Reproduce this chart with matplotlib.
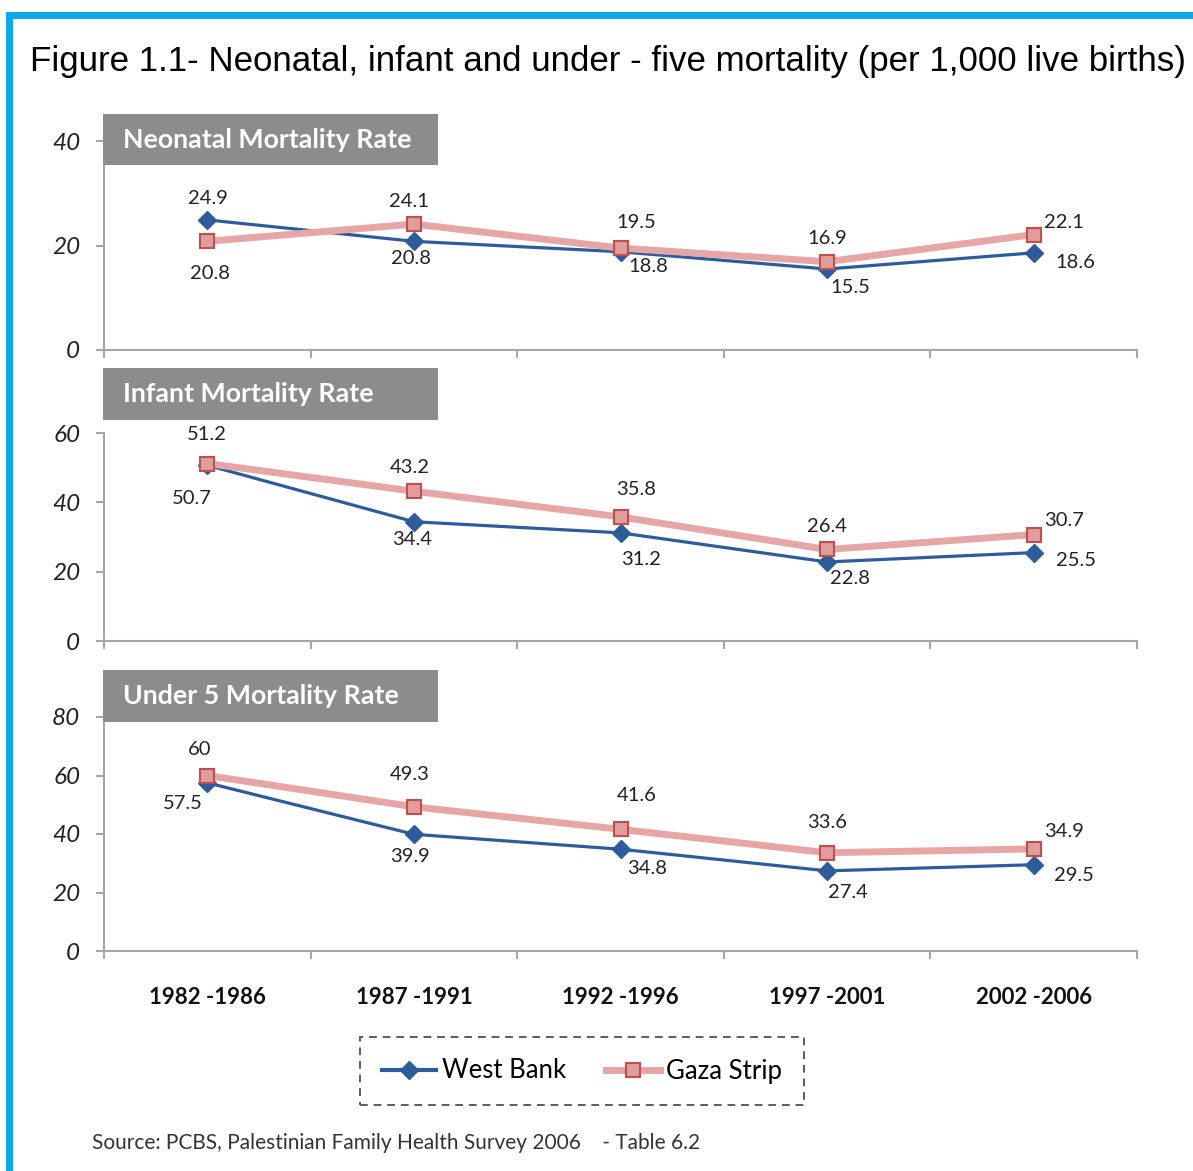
import numpy as np
import matplotlib
matplotlib.use("Agg")
import matplotlib.pyplot as plt
from matplotlib.patches import Rectangle
from matplotlib.lines import Line2D

# Datos
periods = ["1982 -1986", "1987 -1991", "1992 -1996", "1997 -2001", "2002 -2006"]
panel_titles = ["Neonatal Mortality Rate", "Infant Mortality Rate", "Under 5 Mortality Rate"]

neonatal_wb = [24.9, 20.8, 18.8, 15.5, 18.6]
neonatal_gs = [20.8, 24.1, 19.5, 16.9, 22.1]
infant_wb = [50.7, 34.4, 31.2, 22.8, 25.5]
infant_gs = [51.2, 43.2, 35.8, 26.4, 30.7]
under5_wb = [57.5, 39.9, 34.8, 27.4, 29.5]
under5_gs = [60, 49.3, 41.6, 33.6, 34.9]

y_max = [40, 60, 80]
y_step = 20

# Desplazamiento de las etiquetas (pixeles, y hacia arriba)
off_wb = [
    [(1, 21), (-3, -17), (28, -15), (23, -18), (42, -10)],
    [(-15, -33), (-2, -18), (21, -27), (23, -17), (42, -8)],
    [(-24, -21), (-4, -22), (27, -19), (21, -22), (40, -11)],
]
off_gs = [
    [(3, -32), (-5, 23), (16, 26), (0, 23), (30, 12)],
    [(0, 29), (-4, 24), (16, 27), (0, 23), (30, 14)],
    [(-8, 26), (-4, 32), (16, 34), (0, 30), (30, 17)],
]

W, H = 1193, 1171
fig = plt.figure(figsize=(W / 100, H / 100), dpi=100)

body = "Lato"
blue = "#2E5C9B"
pink_line = "#E6A6A6"
pink_face = "#E19C9C"
pink_edge = "#C0504D"
grey = "#A6A6A6"

def fx(px):
    return px / W

def fy(py):
    return 1 - py / H

# Marco azul
fig.add_artist(Rectangle((fx(8.5), fy(H + 20)), fx(W + 20), (H + 5) / H,
                         transform=fig.transFigure, fill=False,
                         edgecolor="#0AAAE9", linewidth=5.0))

fig.text(fx(30), fy(61), "Figure 1.1- Neonatal, infant and under - five mortality (per 1,000 live births)",
         fontsize=25.15, family="Liberation Sans", va="center", ha="left", color="black")

axes_px = [(141, 350), (433, 641), (717, 951)]
boxes_px = [(114, 165), (368, 420), (670, 722)]
series = [(neonatal_wb, neonatal_gs), (infant_wb, infant_gs), (under5_wb, under5_gs)]

x = np.arange(len(periods))
for k in range(3):
    top, bot = axes_px[k]
    ax = fig.add_axes([fx(104), fy(bot), fx(1137 - 104), (bot - top) / H])
    wb, gs = series[k]
    ax.plot(x, wb, color=blue, lw=2.3, marker="D", ms=9, mfc=blue, mec=blue, zorder=3)
    ax.plot(x, gs, color=pink_line, lw=5, marker="s", ms=10, mfc=pink_face, mec=pink_edge,
            mew=1.5, zorder=4, solid_capstyle="round")
    for i in range(len(x)):
        ax.annotate(f"{wb[i]:g}", (x[i], wb[i]), xytext=off_wb[k][i], textcoords="offset pixels",
                    ha="center", va="center", fontsize=14.5, family=body, color="#222222")
        ax.annotate(f"{gs[i]:g}", (x[i], gs[i]), xytext=off_gs[k][i], textcoords="offset pixels",
                    ha="center", va="center", fontsize=14.5, family=body, color="#222222")
    ax.set_xlim(-0.5, len(periods) - 0.5)
    ax.set_ylim(0, y_max[k])
    ax.set_yticks(np.arange(0, y_max[k] + 1, y_step))
    for s in ["top", "right"]:
        ax.spines[s].set_visible(False)
    for s in ["left", "bottom"]:
        ax.spines[s].set_color(grey)
        ax.spines[s].set_linewidth(1.5)
    ax.tick_params(axis="y", length=6, width=1.5, color=grey, pad=11, labelsize=17.5)
    for lab in ax.get_yticklabels():
        lab.set_family(body)
        lab.set_style("italic")
        lab.set_color("#222222")
    ax.set_xticks(np.arange(-0.5, len(periods)), minor=True)
    ax.tick_params(axis="x", which="minor", length=6, width=1.5, color=grey, direction="out")
    ax.set_xticks(x)
    if k == 2:
        ax.set_xticklabels(periods, fontsize=16, fontweight="bold", family=body, color="#111111")
        ax.tick_params(axis="x", which="major", length=0, pad=26)
    else:
        ax.set_xticklabels([])
        ax.tick_params(axis="x", which="major", length=0)
    ax.patch.set_alpha(0)

    bt, bb = boxes_px[k]
    fig.add_artist(Rectangle((fx(103), fy(bb)), fx(438 - 103), (bb - bt) / H,
                             transform=fig.transFigure, facecolor="#8C8C8C", edgecolor="none", zorder=5))
    fig.text(fx(123), fy((bt + bb) / 2), panel_titles[k], color="white", fontsize=19.3,
             fontweight="bold", family=body, va="center", ha="left", zorder=6)

handles = [
    Line2D([], [], color=blue, lw=3, marker="D", ms=9, mfc=blue, mec=blue),
    Line2D([], [], color=pink_line, lw=5, marker="s", ms=10, mfc=pink_face, mec=pink_edge, mew=1.5),
]
leg = fig.legend(handles, ["West Bank", "Gaza Strip"], loc="center", ncol=2,
                 bbox_to_anchor=(fx(582), fy(1071)), frameon=True, fancybox=False,
                 prop={"family": body, "size": 18.5}, handlelength=2.1, handletextpad=0.25,
                 columnspacing=1.55, borderpad=0.85)
frame = leg.get_frame()
frame.set_linestyle((0, (4, 3)))
frame.set_edgecolor("#333333")
frame.set_linewidth(1.4)

fig.text(fx(92), fy(1143), "Source: PCBS, Palestinian Family Health Survey 2006    - Table 6.2",
         fontsize=15, family=body, color="#333333", va="center", ha="left")

fig.savefig("out.png", dpi=100)
